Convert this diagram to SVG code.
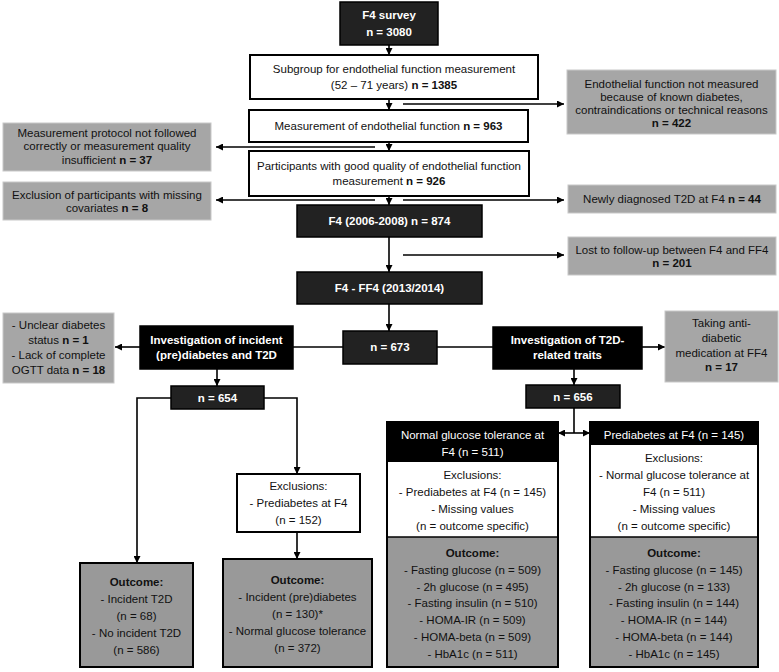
<svg xmlns="http://www.w3.org/2000/svg" width="779" height="672" viewBox="0 0 779 672">
<defs>
<marker id="ah" viewBox="0 0 10 10" refX="10" refY="5" markerWidth="7" markerHeight="7" orient="auto-start-reverse" markerUnits="userSpaceOnUse">
<path d="M0,0 L10,5 L0,10 Z" fill="#000"/>
</marker>
<style>
text{font-family:"Liberation Sans",Arial,sans-serif;font-size:11.5px;text-anchor:middle;fill:#111}
.w{fill:#fff}
.b{font-weight:bold}
.dark{fill:#222;stroke:#000;stroke-width:1.5}
.blk{fill:#000;stroke:#000;stroke-width:1.5}
.wbox{fill:#fff;stroke:#000;stroke-width:2}
.gside{fill:#a6a6a6;stroke:#c8c8c8;stroke-width:1}
.gout{fill:#999;stroke:#000;stroke-width:2}
.ln{stroke:#000;stroke-width:1.6;fill:none}
.ar{stroke:#000;stroke-width:1.6;fill:none;marker-end:url(#ah)}
</style>
</defs>
<rect width="779" height="672" fill="#fff"/>

<g id="connectors">
<line class="ar" x1="389" y1="45" x2="389" y2="55"/>
<line class="ar" x1="389" y1="99" x2="389" y2="110"/>
<line class="ar" x1="389" y1="142" x2="389" y2="151"/>
<line class="ar" x1="389" y1="196" x2="389" y2="205"/>
<line class="ar" x1="389" y1="237" x2="389" y2="272"/>
<line class="ar" x1="389" y1="304" x2="389" y2="331"/>
<line class="ar" x1="403" y1="104" x2="564" y2="104"/>
<line class="ar" x1="375" y1="147" x2="216" y2="147"/>
<line class="ar" x1="375" y1="200" x2="216" y2="200"/>
<line class="ar" x1="403" y1="200" x2="564" y2="200"/>
<line class="ar" x1="403" y1="255" x2="564" y2="255"/>
<line class="ln" x1="293" y1="347" x2="343" y2="347"/>
<line class="ln" x1="437" y1="347" x2="493" y2="347"/>
<line class="ar" x1="140" y1="347" x2="115" y2="347"/>
<line class="ar" x1="642" y1="347" x2="665" y2="347"/>
<line class="ar" x1="217" y1="369" x2="217" y2="386"/>
<line class="ar" x1="574" y1="369" x2="574" y2="385"/>
<polyline class="ar" points="171,398 137,398 137,563"/>
<polyline class="ar" points="264,398 297,398 297,474"/>
<line class="ar" x1="297" y1="532" x2="297" y2="559"/>
<line class="ln" x1="574" y1="408" x2="574" y2="433"/>
<line class="ar" x1="574" y1="433" x2="558" y2="433"/>
<line class="ar" x1="574" y1="433" x2="590" y2="433"/>
</g>

<g id="f4survey">
<rect class="dark" x="340" y="2" width="98" height="43"/>
<text class="w b" x="389" y="19">F4 survey</text>
<text class="w b" x="389" y="36">n = 3080</text>
</g>

<g id="subgroup">
<rect class="wbox" x="250" y="55" width="288" height="44"/>
<text x="394" y="73">Subgroup for endothelial function measurement</text>
<text x="394" y="89">(52 – 71 years) <tspan class="b">n = 1385</tspan></text>
</g>

<g id="measurement">
<rect class="wbox" x="249" y="110" width="279" height="32"/>
<text x="388.5" y="130">Measurement of endothelial function <tspan class="b">n = 963</tspan></text>
</g>

<g id="goodquality">
<rect class="wbox" x="249" y="151" width="280" height="45"/>
<text x="389" y="170">Participants with good quality of endothelial function</text>
<text x="389" y="185">measurement <tspan class="b">n = 926</tspan></text>
</g>

<g id="f4base">
<rect class="dark" x="297" y="205" width="185" height="32"/>
<text class="w b" x="389.5" y="225">F4 (2006-2008) n = 874</text>
</g>

<g id="ff4">
<rect class="dark" x="297" y="272" width="185" height="32"/>
<text class="w b" x="389.5" y="292">F4 - FF4 (2013/2014)</text>
</g>

<g id="n673">
<rect class="dark" x="343" y="331" width="94" height="33"/>
<text class="w b" x="390" y="351">n = 673</text>
</g>

<g id="excl422">
<rect class="gside" x="567" y="70" width="209" height="64"/>
<text x="671.5" y="88">Endothelial function not measured</text>
<text x="671.5" y="101">because of known diabetes,</text>
<text x="671.5" y="114">contraindications or technical reasons</text>
<text class="b" x="671.5" y="127">n = 422</text>
</g>

<g id="excl37">
<rect class="gside" x="3" y="123" width="208" height="48"/>
<text x="107" y="137">Measurement protocol not followed</text>
<text x="107" y="150">correctly or measurement quality</text>
<text x="107" y="164">insufficient <tspan class="b">n = 37</tspan></text>
</g>

<g id="excl8">
<rect class="gside" x="3" y="182" width="208" height="38"/>
<text x="107" y="199">Exclusion of participants with missing</text>
<text x="107" y="212">covariates <tspan class="b">n = 8</tspan></text>
</g>

<g id="excl44">
<rect class="gside" x="568" y="185" width="208" height="28"/>
<text x="672" y="203">Newly diagnosed T2D at F4 <tspan class="b">n = 44</tspan></text>
</g>

<g id="excl201">
<rect class="gside" x="568" y="237" width="208" height="38"/>
<text x="672" y="254">Lost to follow-up between F4 and FF4</text>
<text class="b" x="672" y="267">n = 201</text>
</g>

<g id="invincident">
<rect class="blk" x="140" y="326" width="153" height="43"/>
<text class="w b" x="216.5" y="344">Investigation of incident</text>
<text class="w b" x="216.5" y="359">(pre)diabetes and T2D</text>
</g>

<g id="exclunclear">
<rect class="gside" x="3" y="313" width="111" height="70"/>
<text x="58.5" y="329">- Unclear diabetes</text>
<text x="58.5" y="344">status <tspan class="b">n = 1</tspan></text>
<text x="58.5" y="359">- Lack of complete</text>
<text x="58.5" y="374">OGTT data <tspan class="b">n = 18</tspan></text>
</g>

<g id="invtraits">
<rect class="blk" x="493" y="327" width="149" height="42"/>
<text class="w b" x="567.5" y="344">Investigation of T2D-</text>
<text class="w b" x="567.5" y="359">related traits</text>
</g>

<g id="excl17">
<rect class="gside" x="665" y="311" width="113" height="71"/>
<text x="721.5" y="327">Taking anti-</text>
<text x="721.5" y="342">diabetic</text>
<text x="721.5" y="357">medication at FF4</text>
<text class="b" x="721.5" y="371">n = 17</text>
</g>

<g id="n654">
<rect class="dark" x="171" y="386" width="93" height="23"/>
<text class="w b" x="217.5" y="402">n = 654</text>
</g>

<g id="n656">
<rect class="dark" x="526" y="385" width="94" height="23"/>
<text class="w b" x="573" y="401">n = 656</text>
</g>

<g id="outcome1">
<rect class="gout" x="80" y="563" width="113" height="104"/>
<text class="b" x="136.5" y="586">Outcome:</text>
<text x="136.5" y="603">- Incident T2D</text>
<text x="136.5" y="620">(n = 68)</text>
<text x="136.5" y="637">- No incident T2D</text>
<text x="136.5" y="654">(n = 586)</text>
</g>

<g id="exclprediab">
<rect class="wbox" x="237" y="474" width="123" height="58"/>
<text x="298.5" y="490">Exclusions:</text>
<text x="298.5" y="507">- Prediabetes at F4</text>
<text x="298.5" y="524">(n = 152)</text>
</g>

<g id="outcome2">
<rect class="gout" x="223" y="559" width="149" height="108"/>
<text class="b" x="297.5" y="584">Outcome:</text>
<text x="297.5" y="601">- Incident (pre)diabetes</text>
<text x="297.5" y="618">(n = 130)*</text>
<text x="297.5" y="635">- Normal glucose tolerance</text>
<text x="297.5" y="652">(n = 372)</text>
</g>

<g id="ngt">
<rect fill="#fff" x="387" y="422" width="171" height="245"/>
<rect fill="#000" x="387" y="422" width="171" height="40"/>
<rect fill="#999" x="387" y="537" width="171" height="130"/>
<rect fill="none" stroke="#000" stroke-width="2" x="387" y="422" width="171" height="245"/>
<line stroke="#000" stroke-width="1.5" x1="387" y1="537" x2="558" y2="537"/>
<text class="w" x="472.5" y="439">Normal glucose tolerance at</text>
<text class="w" x="472.5" y="456">F4 (n = 511)</text>
<text x="472.5" y="479">Exclusions:</text>
<text x="472.5" y="496">- Prediabetes at F4 (n = 145)</text>
<text x="472.5" y="513">- Missing values</text>
<text x="472.5" y="530">(n = outcome specific)</text>
<text class="b" x="472.5" y="557">Outcome:</text>
<text x="472.5" y="574">- Fasting glucose (n = 509)</text>
<text x="472.5" y="591">- 2h glucose (n = 495)</text>
<text x="472.5" y="607">- Fasting insulin (n = 510)</text>
<text x="472.5" y="624">- HOMA-IR (n = 509)</text>
<text x="472.5" y="641">- HOMA-beta (n = 509)</text>
<text x="472.5" y="658">- HbA1c (n = 511)</text>
</g>

<g id="prediab">
<rect fill="#fff" x="590" y="422" width="168" height="245"/>
<rect fill="#000" x="590" y="422" width="168" height="23"/>
<rect fill="#999" x="590" y="537" width="168" height="130"/>
<rect fill="none" stroke="#000" stroke-width="2" x="590" y="422" width="168" height="245"/>
<line stroke="#000" stroke-width="1.5" x1="590" y1="537" x2="758" y2="537"/>
<text class="w" x="674" y="439">Prediabetes at F4 (n = 145)</text>
<text x="674" y="462">Exclusions:</text>
<text x="674" y="479">- Normal glucose tolerance at</text>
<text x="674" y="496">F4 (n = 511)</text>
<text x="674" y="513">- Missing values</text>
<text x="674" y="530">(n = outcome specific)</text>
<text class="b" x="674" y="557">Outcome:</text>
<text x="674" y="574">- Fasting glucose (n = 145)</text>
<text x="674" y="591">- 2h glucose (n = 133)</text>
<text x="674" y="607">- Fasting insulin (n = 144)</text>
<text x="674" y="624">- HOMA-IR (n = 144)</text>
<text x="674" y="641">- HOMA-beta (n = 144)</text>
<text x="674" y="658">- HbA1c (n = 145)</text>
</g>
</svg>
